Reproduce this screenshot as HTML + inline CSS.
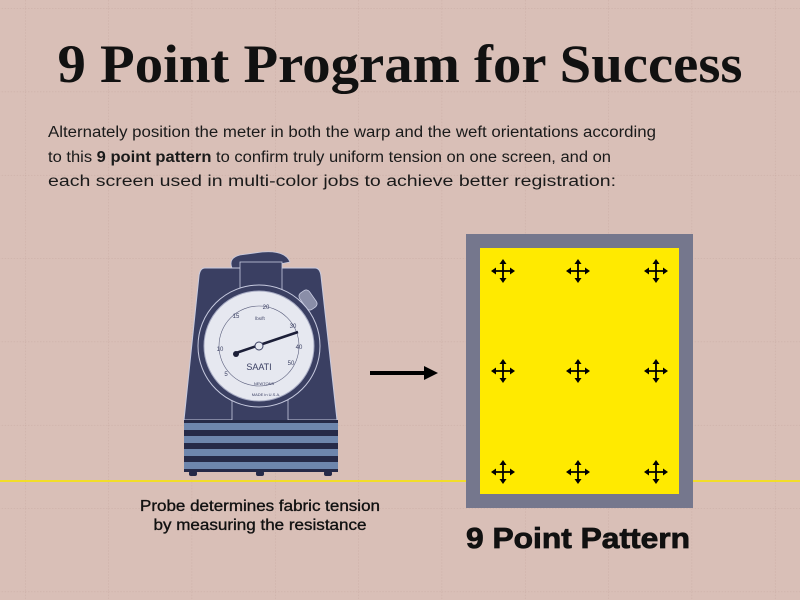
<!DOCTYPE html>
<html><head><meta charset="utf-8"><style>
html,body{margin:0;padding:0;width:800px;height:600px;overflow:hidden;background:#d9bfb7}
svg{display:block}
</style></head><body>
<svg width="800" height="600" viewBox="0 0 800 600" xmlns="http://www.w3.org/2000/svg">
<defs>
<pattern id="g" x="25" y="8.3" width="83.33" height="83.33" patternUnits="userSpaceOnUse">
<path d="M0 0V83.33M0 0H83.33" stroke="#c9aca4" stroke-width="1" stroke-dasharray="1.5 1.5" fill="none"/>
</pattern>
<g id="c">
<line x1="-9" y1="0" x2="9" y2="0" stroke="#000" stroke-width="1.8"/>
<line x1="0" y1="-9" x2="0" y2="9" stroke="#000" stroke-width="1.8"/>
<path d="M-12 0l5-3.5v7zM12 0l-5-3.5v7zM0-12l-3.5 5h7zM0 12l-3.5-5h7z" fill="#000"/>
</g>
</defs>
<rect width="800" height="600" fill="#d9bfb7"/>
<rect width="800" height="600" fill="url(#g)"/>

<text x="400" y="82" text-anchor="middle" font-family="Liberation Serif, serif" font-weight="bold" font-size="54" textLength="685" lengthAdjust="spacingAndGlyphs" fill="#111">9 Point Program for Success</text>

<g font-family="Liberation Sans, sans-serif" font-size="15.5" fill="#1a1a1a">
<text x="48" y="137" textLength="608" lengthAdjust="spacingAndGlyphs">Alternately position the meter in both the warp and the weft orientations according</text>
<text x="48" y="162" textLength="563" lengthAdjust="spacingAndGlyphs">to this <tspan style="font-weight:700">9 point pattern</tspan> to confirm truly uniform tension on one screen, and on</text>
<text x="48" y="186" textLength="568" lengthAdjust="spacingAndGlyphs">each screen used in multi-color jobs to achieve better registration:</text>
</g>

<line x1="0" y1="481" x2="800" y2="481" stroke="#f2dd2a" stroke-width="2"/>

<!-- meter -->
<g>
<path d="M232 268 Q228 258 240 255 L262 252 Q285 250 290 262 L240 272Z" fill="#3a3f62" stroke="#c8cbe0" stroke-width="0.8"/>
<path d="M205 268 L315 268 Q320 268 321 276 L337 420 L184 420 L199 276 Q200 268 205 268Z" fill="#3a3f62" stroke="#c8cbe0" stroke-width="1"/>
<rect x="240" y="262" width="42" height="35" fill="#3a3f62" stroke="#c8cbe0" stroke-width="0.8"/>
<rect x="232" y="400" width="56" height="22" fill="#3a3f62" stroke="#c8cbe0" stroke-width="0.8"/>
<rect x="302" y="290" width="12" height="20" rx="4" transform="rotate(-35 308 300)" fill="#8a8ea8" stroke="#c8cbe0" stroke-width="0.8"/>
<circle cx="259" cy="346" r="61" fill="#3a3f62" stroke="#c8cbe0" stroke-width="1"/>
<circle cx="259" cy="346" r="55" fill="#e6e8f0" stroke="#a8acc4" stroke-width="1"/>
<circle cx="259" cy="346" r="40" fill="none" stroke="#5a5e7c" stroke-width="0.6"/>
<g font-family="Liberation Sans, sans-serif" font-size="6" fill="#3a3f62" text-anchor="middle">
<text x="236" y="318">15</text><text x="266" y="309">20</text><text x="293" y="328">30</text>
<text x="299" y="349">40</text><text x="291" y="365">50</text><text x="220" y="351">10</text><text x="226" y="376">5</text>
<text x="260" y="320" font-size="4.5">lbs/ft</text>
<text x="259" y="370" font-size="9">SAATI</text>
<text x="264" y="385" font-size="4">NEWTONS</text>
<text x="266" y="396" font-size="4">MADE in U.S.A.</text>
</g>
<line x1="236" y1="353" x2="298" y2="332" stroke="#1c1f38" stroke-width="2.6"/>
<circle cx="236" cy="354" r="3" fill="#1c1f38"/>
<circle cx="259" cy="346" r="4" fill="#e6e8f0" stroke="#3a3f62" stroke-width="1"/>
<rect x="184" y="420" width="154" height="52" fill="#262a48"/>
<rect x="184" y="423" width="154" height="7" fill="#6e86ad"/>
<rect x="184" y="436" width="154" height="7" fill="#6e86ad"/>
<rect x="184" y="449" width="154" height="7" fill="#6e86ad"/>
<rect x="184" y="462" width="154" height="7" fill="#6e86ad"/>
<rect x="189" y="471" width="8" height="5" rx="2" fill="#262a48"/>
<rect x="256" y="471" width="8" height="5" rx="2" fill="#262a48"/>
<rect x="324" y="471" width="8" height="5" rx="2" fill="#262a48"/>
</g>

<!-- arrow -->
<line x1="370" y1="373" x2="427" y2="373" stroke="#000" stroke-width="4"/>
<path d="M438 373 L424 366 L424 380Z" fill="#000"/>

<!-- screen -->
<rect x="466" y="234" width="227" height="274" fill="#75778d"/>
<rect x="480" y="248" width="199" height="246" fill="#ffea00"/>
<use href="#c" x="503" y="271"/><use href="#c" x="578" y="271"/><use href="#c" x="656" y="271"/>
<use href="#c" x="503" y="371"/><use href="#c" x="578" y="371"/><use href="#c" x="656" y="371"/>
<use href="#c" x="503" y="472"/><use href="#c" x="578" y="472"/><use href="#c" x="656" y="472"/>

<g font-family="Liberation Sans, sans-serif" font-size="15.5" fill="#111" stroke="#111" stroke-width="0.35" text-anchor="middle">
<text x="260" y="511" textLength="240" lengthAdjust="spacingAndGlyphs">Probe determines fabric tension</text>
<text x="260" y="530" textLength="213" lengthAdjust="spacingAndGlyphs">by measuring the resistance</text>
</g>
<text x="578" y="548" text-anchor="middle" style="font-family:'Liberation Sans',sans-serif;font-weight:700;font-size:29px" textLength="224" lengthAdjust="spacingAndGlyphs" fill="#111" stroke="#111" stroke-width="0.8">9 Point Pattern</text>
</svg>
</body></html>
